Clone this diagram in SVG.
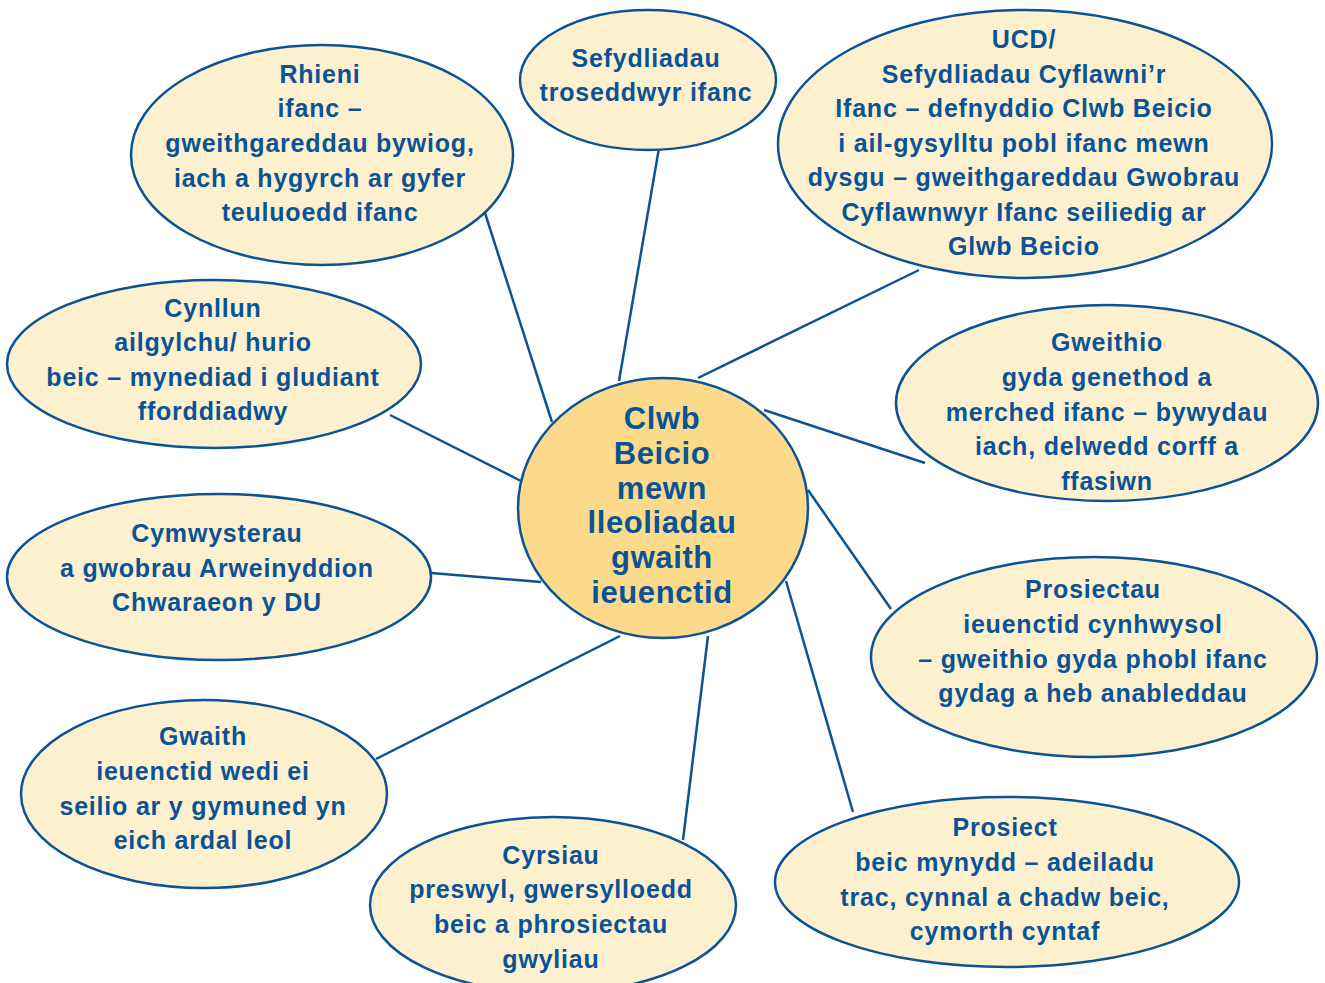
<svg xmlns="http://www.w3.org/2000/svg" width="1325" height="983" viewBox="0 0 1325 983">
<style>
.n{fill:#fdf0cf;stroke:#0b5394;stroke-width:2.5}
.c{fill:#fbdb8b;stroke:#0b5394;stroke-width:2.5}
.t{font-family:"Liberation Sans",Arial,sans-serif;font-weight:bold;font-size:25px;letter-spacing:0.8px;fill:#0b5394;text-anchor:middle;dominant-baseline:central}
.tc{font-size:31px;letter-spacing:0.6px}
#edges line{stroke:#0b5394;stroke-width:2.5}
</style>
<rect width="1325" height="983" fill="#ffffff"/>
<g id="edges">
<line x1="485" y1="213" x2="552" y2="422"/>
<line x1="659" y1="148" x2="619" y2="381"/>
<line x1="919" y1="270" x2="698" y2="378"/>
<line x1="390" y1="415" x2="521" y2="481"/>
<line x1="764" y1="410" x2="925" y2="463"/>
<line x1="431" y1="573" x2="541" y2="582"/>
<line x1="808" y1="490" x2="891" y2="609"/>
<line x1="376" y1="759" x2="620" y2="636"/>
<line x1="708" y1="636" x2="683" y2="840"/>
<line x1="786" y1="581" x2="853" y2="812"/>
</g>
<g id="center">
<ellipse class="c" cx="663" cy="508" rx="145" ry="130"/>
<text class="t tc"><tspan x="662" y="418">Clwb</tspan><tspan x="662" y="453">Beicio</tspan><tspan x="662" y="488">mewn</tspan><tspan x="662" y="522">lleoliadau</tspan><tspan x="662" y="557">gwaith</tspan><tspan x="662" y="592">ieuenctid</tspan></text>
</g>
<g id="rhieni">
<ellipse class="n" cx="322" cy="155" rx="191" ry="110"/>
<text class="t"><tspan x="320" y="74">Rhieni</tspan><tspan x="320" y="108">ifanc –</tspan><tspan x="320" y="143">gweithgareddau bywiog,</tspan><tspan x="320" y="178">iach a hygyrch ar gyfer</tspan><tspan x="320" y="212">teuluoedd ifanc</tspan></text>
</g>
<g id="sefydliadau">
<ellipse class="n" cx="648" cy="80" rx="128" ry="70"/>
<text class="t"><tspan x="646" y="58">Sefydliadau</tspan><tspan x="646" y="92">troseddwyr ifanc</tspan></text>
</g>
<g id="ucd">
<ellipse class="n" cx="1025" cy="144" rx="247" ry="134"/>
<text class="t"><tspan x="1024" y="39">UCD/</tspan><tspan x="1024" y="74">Sefydliadau Cyflawni’r</tspan><tspan x="1024" y="108">Ifanc – defnyddio Clwb Beicio</tspan><tspan x="1024" y="143">i ail-gysylltu pobl ifanc mewn</tspan><tspan x="1024" y="177">dysgu – gweithgareddau Gwobrau</tspan><tspan x="1024" y="212">Cyflawnwyr Ifanc seiliedig ar</tspan><tspan x="1024" y="246">Glwb Beicio</tspan></text>
</g>
<g id="cynllun">
<ellipse class="n" cx="214" cy="364" rx="207" ry="84"/>
<text class="t"><tspan x="213" y="308">Cynllun</tspan><tspan x="213" y="342">ailgylchu/ hurio</tspan><tspan x="213" y="377">beic – mynediad i gludiant</tspan><tspan x="213" y="411">fforddiadwy</tspan></text>
</g>
<g id="gweithio">
<ellipse class="n" cx="1107" cy="403" rx="211" ry="98"/>
<text class="t"><tspan x="1107" y="342">Gweithio</tspan><tspan x="1107" y="377">gyda genethod a</tspan><tspan x="1107" y="412">merched ifanc – bywydau</tspan><tspan x="1107" y="446">iach, delwedd corff a</tspan><tspan x="1107" y="481">ffasiwn</tspan></text>
</g>
<g id="cymwysterau">
<ellipse class="n" cx="219" cy="577" rx="212" ry="83"/>
<text class="t"><tspan x="217" y="533">Cymwysterau</tspan><tspan x="217" y="568">a gwobrau Arweinyddion</tspan><tspan x="217" y="602">Chwaraeon y DU</tspan></text>
</g>
<g id="prosiectau">
<ellipse class="n" cx="1094" cy="657" rx="223" ry="100"/>
<text class="t"><tspan x="1093" y="589">Prosiectau</tspan><tspan x="1093" y="624">ieuenctid cynhwysol</tspan><tspan x="1093" y="659">– gweithio gyda phobl ifanc</tspan><tspan x="1093" y="693">gydag a heb anableddau</tspan></text>
</g>
<g id="gwaith">
<ellipse class="n" cx="204" cy="794" rx="183" ry="94"/>
<text class="t"><tspan x="203" y="736">Gwaith</tspan><tspan x="203" y="771">ieuenctid wedi ei</tspan><tspan x="203" y="806">seilio ar y gymuned yn</tspan><tspan x="203" y="840">eich ardal leol</tspan></text>
</g>
<g id="cyrsiau">
<ellipse class="n" cx="553" cy="905" rx="183" ry="88"/>
<text class="t"><tspan x="551" y="855">Cyrsiau</tspan><tspan x="551" y="889">preswyl, gwersylloedd</tspan><tspan x="551" y="924">beic a phrosiectau</tspan><tspan x="551" y="959">gwyliau</tspan></text>
</g>
<g id="prosiect">
<ellipse class="n" cx="1007" cy="882" rx="232" ry="85"/>
<text class="t"><tspan x="1005" y="827">Prosiect</tspan><tspan x="1005" y="862">beic mynydd – adeiladu</tspan><tspan x="1005" y="897">trac, cynnal a chadw beic,</tspan><tspan x="1005" y="931">cymorth cyntaf</tspan></text>
</g>
</svg>
